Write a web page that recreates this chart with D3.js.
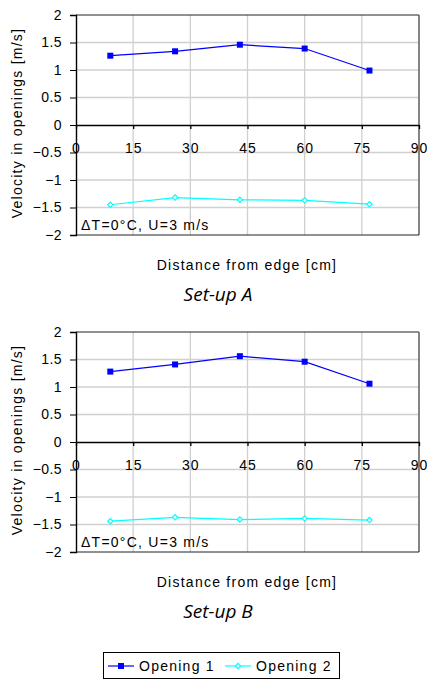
<!DOCTYPE html>
<html><head><meta charset="utf-8">
<script src="https://cdn.jsdelivr.net/npm/d3@7"></script>
<style>body{margin:0;background:#fff}svg{display:block}</style>
</head><body>
<svg id="c" width="427" height="680"></svg>
<script>
const distances = [9, 26, 43, 60, 77];
const setupA_opening1 = [1.26, 1.34, 1.46, 1.39, 0.99];
const setupA_opening2 = [-1.45, -1.32, -1.36, -1.37, -1.44];
const setupB_opening1 = [1.28, 1.41, 1.56, 1.46, 1.06];
const setupB_opening2 = [-1.44, -1.37, -1.41, -1.39, -1.42];
const xTicks = [0, 15, 30, 45, 60, 75, 90];
const yTicks = [-2, -1.5, -1, -0.5, 0, 0.5, 1, 1.5, 2];
const seriesNames = ["Opening 1", "Opening 2"];
const seriesColors = ["#0000ff", "#00ffff"];
const panels = [
  {title: "Set-up A", o1: setupA_opening1, o2: setupA_opening2, top: 15},
  {title: "Set-up B", o1: setupB_opening1, o2: setupB_opening2, top: 332}
];
const svg = d3.select("#c");
const font = "'Liberation Sans', Arial, sans-serif";
const LS = 1.25;
const L = 76, R = 419, H = 220;
const x = d3.scaleLinear().domain([0, 90]).range([L, R]);

function diamond(sel) {
  return sel.attr("d", d3.symbol(d3.symbolSquare, 14)).attr("fill", "#fff")
    .attr("stroke", seriesColors[1]).attr("stroke-width", 1.2);
}

panels.forEach(p => {
  const y = d3.scaleLinear().domain([-2, 2]).range([p.top + H, p.top]);
  const g = svg.append("g");
  // grid
  g.selectAll(".hg").data(yTicks.filter(t => t !== 0 && t !== 2 && t !== -2)).join("line")
    .attr("x1", L).attr("x2", R).attr("y1", d => y(d)).attr("y2", d => y(d))
    .attr("stroke", "#d0d0d0").attr("stroke-width", 1.3);
  g.selectAll(".vg").data(xTicks.filter(t => t !== 0 && t !== 90)).join("line")
    .attr("x1", d => x(d)).attr("x2", d => x(d)).attr("y1", p.top).attr("y2", p.top + H)
    .attr("stroke", "#d0d0d0").attr("stroke-width", 1.3);
  // border
  g.append("line").attr("x1", L).attr("x2", R).attr("y1", p.top).attr("y2", p.top).attr("stroke", "#222");
  g.append("line").attr("x1", R).attr("x2", R).attr("y1", p.top).attr("y2", p.top + H).attr("stroke", "#666").attr("stroke-width", 1.6);
  g.append("line").attr("x1", L).attr("x2", R).attr("y1", p.top + H).attr("y2", p.top + H).attr("stroke", "#222");
  // y axis
  const ya = d3.axisLeft(y).tickValues(yTicks).tickSize(6).tickPadding(8).tickFormat(d3.format("~g"));
  const yg = g.append("g").attr("transform", `translate(${L},0)`).call(ya);
  yg.select(".domain").attr("stroke", "#000").attr("stroke-width", 1.4);
  yg.selectAll("text").attr("font-family", font).attr("font-size", 14).attr("fill", "#000").attr("letter-spacing", 0.4);
  yg.selectAll(".tick line").attr("stroke", "#000");
  // x axis at zero
  const xa = d3.axisBottom(x).tickValues(xTicks).tickSize(4).tickSizeOuter(0).tickPadding(14);
  const xg = g.append("g").attr("transform", `translate(0,${y(0)})`).call(xa);
  xg.select(".domain").attr("stroke", "#000").attr("stroke-width", 1.3);
  xg.selectAll(".tick line").attr("stroke", "#000").attr("stroke-width", 1.3);
  xg.selectAll("text").attr("font-family", font).attr("font-size", 14).attr("fill", "#000").attr("letter-spacing", 1);
  // y title
  g.append("text").attr("transform", `translate(22,${p.top + H / 2 - 2}) rotate(-90)`)
    .attr("text-anchor", "middle").attr("font-family", font).attr("font-size", 14).attr("letter-spacing", LS)
    .text("Velocity in openings [m/s]");
  // annotation
  g.append("text").attr("x", 81).attr("y", p.top + H - 5).attr("font-family", font).attr("font-size", 14)
    .attr("letter-spacing", LS).text("\u0394T=0\u00B0C, U=3 m/s");
  // x title
  g.append("text").attr("x", 247).attr("y", p.top + H + 35).attr("text-anchor", "middle")
    .attr("font-family", font).attr("font-size", 14).attr("letter-spacing", LS).text("Distance from edge [cm]");
  g.append("text").attr("x", 218).attr("y", p.top + H + 66).attr("text-anchor", "middle")
    .attr("font-family", "'Open Sans', sans-serif").attr("font-style", "italic").attr("font-size", 19)
    .text(p.title);
  // series
  const line = d3.line().x((d, i) => x(distances[i])).y(d => y(d));
  [p.o1, p.o2].forEach((vals, si) => {
    g.append("path").datum(vals).attr("d", line).attr("fill", "none")
      .attr("stroke", seriesColors[si]).attr("stroke-width", 1.2);
    if (si === 0) {
      g.selectAll(".m0").data(vals).join("rect")
        .attr("x", (d, i) => x(distances[i]) - 3).attr("y", d => y(d) - 3)
        .attr("width", 6).attr("height", 6).attr("fill", seriesColors[0]);
    } else {
      g.selectAll(".m1").data(vals).join("path").call(diamond)
        .attr("transform", (d, i) => `translate(${x(distances[i])},${y(d)}) rotate(45)`);
    }
  });
});

// legend
const lg = svg.append("g");
lg.append("rect").attr("x", 103.5).attr("y", 652.5).attr("width", 236).attr("height", 26)
  .attr("fill", "#fff").attr("stroke", "#000");
const lx = [108, 225];
seriesNames.forEach((n, i) => {
  lg.append("line").attr("x1", lx[i]).attr("x2", lx[i] + 26).attr("y1", 666).attr("y2", 666)
    .attr("stroke", seriesColors[i]).attr("stroke-width", 1.2);
  if (i === 0) {
    lg.append("rect").attr("x", lx[i] + 13 - 3).attr("y", 663).attr("width", 6).attr("height", 6).attr("fill", seriesColors[0]);
  } else {
    lg.append("path").call(diamond).attr("transform", `translate(${lx[i] + 13},666) rotate(45)`);
  }
  lg.append("text").attr("x", lx[i] + 31).attr("y", 671).attr("font-family", font).attr("font-size", 14)
    .attr("letter-spacing", LS).text(n);
});
</script>
</body></html>
